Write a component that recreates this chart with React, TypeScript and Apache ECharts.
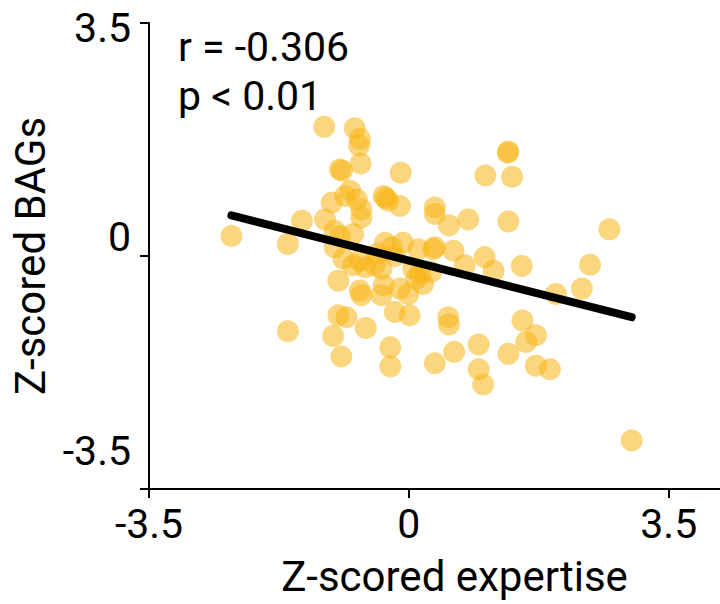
import React, { useEffect, useRef } from "react";
import * as echarts from "echarts";

// Z-scored expertise (x) and Z-scored BAGs (y) for each participant
const expertise = [
  -2.39, -1.63, -1.63, -1.44, -1.14, -0.73, -0.66, -0.67, -0.65, -0.93, -0.9, -0.11,
  1.03, 1.39, 1.34, 1.33, -1.13, -1.04, -0.86, -0.79, -0.7, -0.64, -0.64, -0.34,
  -0.31, -0.28, -0.12, 0.35, 0.35, 0.54, 0.8, 1.34, 2.7, -1.0, -0.93, -0.75,
  -1.0, -0.88, -0.66, -0.59, -0.46, -0.37, -0.75, -0.43, -0.32, -0.23, -0.08, -0.19,
  0.13, 0.35, 0.33, 0.6, 0.75, 1.02, 1.14, 1.52, 2.44, 2.33, 1.98, 0.06,
  0.15, 0.3, -0.95, -0.66, -0.64, -0.34, -0.37, -0.12, -0.01, 0.1, 0.19, -0.95,
  -0.84, -1.02, -0.58, -0.19, 0.01, 0.53, 0.54, 1.53, 1.71, 1.58, -0.91, -0.25,
  -0.25, 0.35, 0.61, 0.94, 0.94, 1.0, 1.34, 1.71, 1.9, 3.0,
];
const bags = [
  0.3, 0.18, -1.13, 0.53, 1.94, 1.92, 1.76, 1.66, 1.39, 1.3, 1.28, 1.25,
  1.21, 1.19, 1.57, 1.55, 0.55, 0.8, 0.9, 0.98, 0.85, 0.7, 0.58, 0.9,
  0.87, 0.83, 0.75, 0.73, 0.63, 0.46, 0.55, 0.52, 0.4, 0.38, 0.3, 0.33,
  0.13, -0.04, -0.07, -0.17, -0.14, -0.19, -0.14, 0.03, 0.2, 0.13, 0.2, 0.0,
  0.1, 0.13, 0.1, 0.08, -0.14, -0.02, -0.22, -0.15, -0.13, -0.49, -0.57, -0.19,
  -0.27, -0.24, -0.37, -0.52, -0.59, -0.44, -0.59, -0.49, -0.57, -0.34, -0.42, -0.89,
  -0.92, -1.2, -1.08, -0.84, -0.89, -0.92, -1.03, -0.97, -1.19, -1.29, -1.51, -1.37,
  -1.66, -1.61, -1.44, -1.33, -1.7, -1.93, -1.47, -1.65, -1.7, -2.77,
];

// Least-squares fit drawn across the observed range
const fitX = [-2.39, 3.0];
const fitY = [0.61, -0.92];

const axisTicks = [-3.5, 0, 3.5];
const statR = "-0.306";
const statP = "0.01";

const FONT = "Roboto";

export default function App() {
  const ref = useRef<HTMLDivElement>(null);

  useEffect(() => {
    if (!ref.current) return;
    const chart = echarts.init(ref.current, null, { renderer: "svg" });
    const points = expertise.map((x, i) => [x, bags[i]]);
    const fitLine = fitX.map((x, i) => [x, fitY[i]]);

    chart.setOption({
      animation: false,
      backgroundColor: "#ffffff",
      grid: {
        left: 149,
        right: 0,
        top: 23,
        bottom: 115,
        containLabel: false,
        outerBoundsMode: "none",
      },
      xAxis: {
        type: "value",
        min: -3.5,
        max: 4.19,
        interval: 3.5,
        splitLine: { show: false },
        axisLine: { show: true, onZero: false, lineStyle: { color: "#000", width: 2 } },
        axisTick: {
          show: true,
          customValues: axisTicks,
          length: 9,
          lineStyle: { color: "#000", width: 2 },
        },
        axisLabel: {
          customValues: axisTicks,
          margin: 14,
          color: "#000",
          fontFamily: FONT,
          fontSize: 41,
          formatter: (v: number) => String(v),
        },
        name: "Z-scored expertise",
        nameLocation: "middle",
        nameGap: 66,
        nameTextStyle: {
          color: "#000",
          fontFamily: FONT,
          fontSize: 42,
          padding: [0, 0, 0, 40],
        },
      },
      yAxis: {
        type: "value",
        min: -3.5,
        max: 3.5,
        interval: 3.5,
        splitLine: { show: false },
        axisLine: { show: true, onZero: false, lineStyle: { color: "#000", width: 2 } },
        axisTick: {
          show: true,
          customValues: axisTicks,
          length: 9,
          lineStyle: { color: "#000", width: 2 },
        },
        axisLabel: {
          customValues: axisTicks,
          margin: 18,
          color: "#000",
          fontFamily: FONT,
          fontSize: 41,
          formatter: (v: number) =>
            v > 0 ? `{hi|${v}}` : v < 0 ? `{lo|${v}}` : `{mid|${v}}`,
          rich: {
            hi: { fontFamily: FONT, fontSize: 41, color: "#000", padding: [10, 0, 0, 0] },
            mid: { fontFamily: FONT, fontSize: 41, color: "#000", padding: [0, 0, 38, 0] },
            lo: { fontFamily: FONT, fontSize: 41, color: "#000", padding: [0, 0, 76, 0] },
          },
        },
        name: "Z-scored BAGs",
        nameLocation: "middle",
        nameGap: 71,
        nameTextStyle: {
          color: "#000",
          fontFamily: FONT,
          fontSize: 42,
        },
      },
      graphic: [
        {
          type: "text",
          left: 178,
          top: 26,
          style: {
            text: `r = ${statR}`,
            fontFamily: FONT,
            fontSize: 41,
            fill: "#000",
          },
        },
        {
          type: "text",
          left: 178,
          top: 75,
          style: {
            text: `p < ${statP}`,
            fontFamily: FONT,
            fontSize: 41,
            fill: "#000",
          },
        },
      ],
      series: [
        {
          type: "scatter",
          data: points,
          symbol: "circle",
          symbolSize: 22,
          itemStyle: { color: "rgb(247,180,20)", opacity: 0.55 },
          z: 2,
        },
        {
          type: "line",
          data: fitLine,
          symbol: "none",
          lineStyle: { color: "#000", width: 8, cap: "round" },
          z: 3,
        },
      ],
    });

    return () => chart.dispose();
  }, []);

  return (
    <div
      ref={ref}
      style={{ position: "fixed", left: 0, top: 0, width: 720, height: 604 }}
    />
  );
}
